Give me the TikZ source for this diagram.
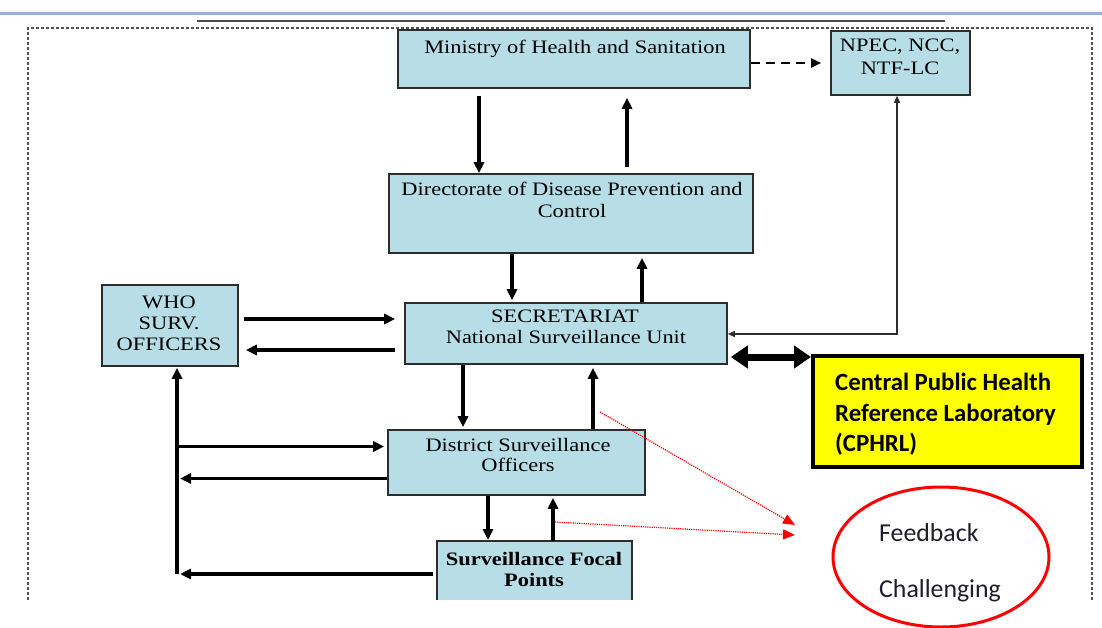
\documentclass[tikz,border=0pt]{standalone}
\usepackage{fontspec}
\setmainfont{Liberation Serif}
\newfontfamily\boxfont{Liberation Serif}[FakeStretch=1.18]
\newfontfamily\calfont{Carlito}
\usetikzlibrary{arrows.meta,shapes.geometric}
\definecolor{boxfill}{RGB}{183,222,230}
\definecolor{boxedge}{RGB}{45,45,45}
\definecolor{labyellow}{RGB}{255,255,0}
\definecolor{bandblue}{RGB}{149,179,215}
\definecolor{framegray}{RGB}{80,80,80}
\definecolor{inkdark}{RGB}{30,30,40}

\begin{document}
\begin{tikzpicture}[x=1pt,y=-1pt,
  box/.style={draw=boxedge, line width=1.6pt, fill=boxfill, inner sep=0pt},
  boxtxt/.style={font={\boxfont\fontsize{19}{21}\selectfont}, inner sep=0pt, anchor=base},
  boxbold/.style={font={\boxfont\bfseries\fontsize{19}{21}\selectfont}, inner sep=0pt, anchor=base},
  labtxt/.style={font={\calfont\bfseries\fontsize{24.8}{30}\selectfont}, inner sep=0pt, anchor=base west},
  notetxt/.style={font={\calfont\fontsize{25.8}{30}\selectfont}, text=inkdark, inner sep=0pt, anchor=base west},
  arr/.style={line width=3.2pt, -{Triangle[length=11pt,width=10pt]}},
  thinarr/.style={line width=1.4pt, draw=boxedge, {Triangle[length=7pt,width=6pt]}-{Triangle[length=7pt,width=6pt]}},
  dblarr/.style={line width=7pt, {Triangle[length=17pt,width=22pt]}-{Triangle[length=17pt,width=22pt]}},
  dasharr/.style={line width=2.2pt, dash pattern=on 9pt off 6pt, -{Triangle[length=10pt,width=9pt]}},
  reddot/.style={draw=red, line width=1.2pt, dash pattern=on 1.2pt off 1pt, -{Triangle[length=12pt,width=10pt,fill=red]}},
  framepath/.style={draw=framegray, line width=1.3pt, dash pattern=on 3pt off 2pt}
]
\useasboundingbox (0,0) rectangle (1102,628);

% header strip
\draw[bandblue, line width=3pt] (0,13.5) -- (1102,13.5);
\draw[gray!60!black, line width=2.2pt] (197,21) -- (945,21);

% dashed frame, open at the bottom
\draw[framepath] (28,600) |- (1092,28) -- (1092,600);

% boxes
\node[box, minimum width=352pt, minimum height=58pt] (moh) at (574,59) {};
\node[boxtxt] (mohT) at (575,54) {Ministry of Health and Sanitation};

\node[box, minimum width=139pt, minimum height=64pt] (npec) at (900.5,63) {};
\node[boxtxt] (npecA) at (900,52) {NPEC, NCC,};
\node[boxtxt] (npecB) at (900,75) {NTF-LC};

\node[box, minimum width=364pt, minimum height=79pt] (dir) at (571,213.5) {};
\node[boxtxt] (dirA) at (572,196) {Directorate of Disease Prevention and};
\node[boxtxt] (dirB) at (572,218) {Control};

\node[box, minimum width=322pt, minimum height=61pt] (sec) at (566,333.5) {};
\node[boxtxt] (secA) at (565,322) {SECRETARIAT};
\node[boxtxt] (secB) at (566,343) {National Surveillance Unit};

\node[box, minimum width=136pt, minimum height=81pt] (who) at (170,325.5) {};
\node[boxtxt] (whoA) at (169,308) {WHO};
\node[boxtxt] (whoB) at (169,329) {SURV.};
\node[boxtxt] (whoC) at (169,350) {OFFICERS};

\node[draw=black, line width=4pt, fill=labyellow, minimum width=269pt, minimum height=111pt, inner sep=0pt] (cphrl) at (947.5,411.5) {};
\node[labtxt] (cphrlA) at (835,390) {Central Public Health};
\node[labtxt] (cphrlB) at (835,421) {Reference Laboratory};
\node[labtxt] (cphrlC) at (835,451) {(CPHRL)};

\node[box, minimum width=257pt, minimum height=65pt] (dso) at (516.5,462.5) {};
\node[boxtxt] (dsoA) at (518,451) {District Surveillance};
\node[boxtxt] (dsoB) at (518,471) {Officers};

% focal points box runs past the lower edge, so its bottom side is not drawn
\node[fill=boxfill, minimum width=195pt, minimum height=59pt, inner sep=0pt, outer sep=0pt] (sfp) at (534.5,570.5) {};
\draw[boxedge, line width=1.6pt] (sfp.south west) |- (sfp.north east) -- (sfp.south east);
\node[boxbold] (sfpA) at (534,565) {Surveillance Focal};
\node[boxbold] (sfpB) at (534,586) {Points};

% feedback note
\node[draw=red, line width=3pt, ellipse, minimum width=216pt, minimum height=140pt, inner sep=0pt] (note) at (941,557) {};
\node[notetxt] (noteA) at (879,541) {Feedback};
\node[notetxt] (noteB) at (879,597) {Challenging};

% columns and rows used by the connectors
\coordinate (cA1) at (479,0);
\coordinate (cA2) at (627,0);
\coordinate (cB1) at (512,0);
\coordinate (cB2) at (642,0);
\coordinate (cC1) at (463,0);
\coordinate (cC2) at (593,0);
\coordinate (cD1) at (488,0);
\coordinate (cD2) at (553,0);
\coordinate (cN) at (897,0);
\coordinate (rM) at (0,63);
\coordinate (rW1) at (0,319);
\coordinate (rW2) at (0,350);
\coordinate (rN) at (0,334);
\coordinate (rL) at (0,357);
\coordinate (bus1) at (177,446.5);
\coordinate (bus2) at (177,478.5);
\coordinate (bus3) at (177,574);
\coordinate (rdA) at (600,412);
\coordinate (rdAend) at (795,525);
\coordinate (rdB) at (555,522);
\coordinate (rdBend) at (795,535);

% ministry <-> directorate
\draw[arr, shorten <=7pt] (moh.south -| cA1) -- (dir.north -| cA1);
\draw[arr, shorten <=6pt, shorten >=9pt] (dir.north -| cA2) -- (moh.south -| cA2);
\draw[dasharr, shorten >=9pt] (moh.east |- rM) -- (npec.west |- rM);

% directorate <-> secretariat
\draw[arr, shorten >=2pt] (dir.south -| cB1) -- (sec.north -| cB1);
\draw[arr, shorten >=4pt] (sec.north -| cB2) -- (dir.south -| cB2);

% WHO <-> secretariat
\draw[arr, shorten <=5pt, shorten >=9pt] (who.east |- rW1) -- (sec.west |- rW1);
\draw[arr, shorten <=9pt, shorten >=7pt] (sec.west |- rW2) -- (who.east |- rW2);

% secretariat <-> NPEC and laboratory
\draw[thinarr] (npec.south -| cN) |- (sec.east |- rN);
\draw[dblarr, shorten <=3pt] (sec.east |- rL) -- (cphrl.west |- rL);

% secretariat <-> district
\draw[arr, shorten >=2pt] (sec.south -| cC1) -- (dso.north -| cC1);
\draw[arr, shorten >=3pt] (dso.north -| cC2) -- (sec.south -| cC2);

% left bus up to WHO
\draw[arr, shorten >=1pt] (bus3) -- (who.south -| bus3);
\draw[arr, shorten >=3pt] (bus1) -- (dso.west |- bus1);
\draw[arr, shorten >=3pt] (dso.west |- bus2) -- (bus2);

% district <-> focal points
\draw[arr, shorten >=1pt] (dso.south -| cD1) -- (sfp.north -| cD1);
\draw[arr, shorten >=2pt] (sfp.north -| cD2) -- (dso.south -| cD2);
\draw[arr, shorten <=4pt, shorten >=3pt] (sfp.west |- bus3) -- (bus3);

% feedback pointers
\draw[reddot] (rdA) -- (rdAend);
\draw[reddot] (rdB) -- (rdBend);
\end{tikzpicture}
\end{document}
